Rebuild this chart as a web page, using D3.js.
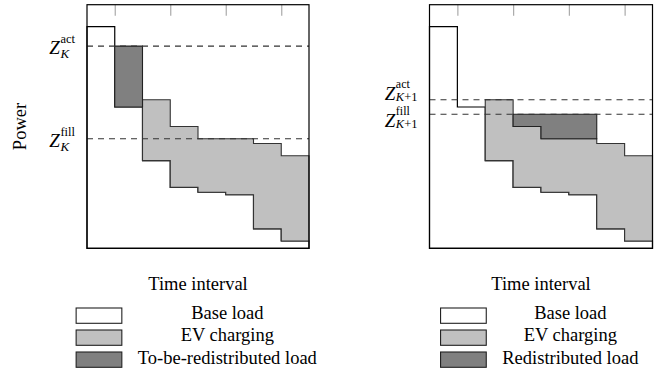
<!DOCTYPE html>
<html>
<head>
<meta charset="utf-8">
<script src="https://d3js.org/d3.v7.min.js"></script>
<style>
  body { margin: 0; background: #fff; }
  text { font-family: "Liberation Serif", "Times New Roman", serif; fill: #000; }
</style>
</head>
<body>
<svg width=672 height=374></svg>
<script>
// time intervals 0..7, power in arbitrary units
const intervals = [0, 1, 2, 3, 4, 5, 6, 7]
const baseLoad = [9.1, 5.8, 3.6, 2.5, 2.3, 2.2, 0.8, 0.3]
const evCharging = [0, 0, 2.5, 2.5, 2.2, 2.3, 3.5, 3.5]
const toBeRedistributed = [0, 2.5, 0, 0, 0, 0, 0, 0]
const redistributed = [0, 0, 0, 0.5, 1.0, 1.0, 0, 0]
const zAct = [8.3, 6.1]
const zFill = [4.5, 5.5]
const zSub = ["K", "K+1"]
const tickValues = [1, 3, 5, 7]
const legendLeft = ["Base load", "EV charging", "To-be-redistributed load"]
const legendRight = ["Base load", "EV charging", "Redistributed load"]

const colors = ["#ffffff", "#c0c0c0", "#808080"]

const svg = d3.select("svg")

const panels = [
  { x0: 87, x1: 309, dark: toBeRedistributed, legend: legendLeft, actDy: 7.5, fillDy: 8, supDy: -10.5, subDy: 4, fs: 12.5 },
  { x0: 429.5, x1: 652.5, dark: redistributed, legend: legendRight, actDy: 0.2, fillDy: 12.4, supDy: -12, subDy: 1.5, fs: 12 }
]

const y = d3.scaleLinear().domain([0, 10]).range([248.3, 4.7])

function steps(lo, hi) {
  const pts = []
  intervals.forEach(i => {
    pts.push({ x: i, lo: lo[i], hi: hi[i] }, { x: i + 1, lo: lo[i], hi: hi[i] })
  })
  return pts
}

panels.forEach((p, k) => {
  const x = d3.scaleLinear().domain([0, 8]).range([p.x0, p.x1])
  const g = svg.append("g")

  const area = d3.area()
    .defined(d => d.hi > d.lo)
    .x(d => x(d.x))
    .y0(d => y(d.lo))
    .y1(d => y(d.hi))

  const zeros = intervals.map(() => 0)
  const evTop = intervals.map(i => baseLoad[i] + evCharging[i])
  const darkTop = intervals.map(i => evTop[i] + p.dark[i])

  g.append("path")
    .attr("d", area(steps(zeros, baseLoad)))
    .attr("fill", colors[0])
    .attr("stroke", "#000")
    .attr("stroke-width", 1.2)

  g.append("path")
    .attr("d", area(steps(baseLoad, evTop)))
    .attr("fill", colors[1])
    .attr("stroke", "#333")
    .attr("stroke-width", 1.1)

  g.append("path")
    .attr("d", area(steps(evTop, darkTop)))
    .attr("fill", colors[2])
    .attr("stroke", "#222")
    .attr("stroke-width", 1.1)

  // threshold lines
  g.selectAll(".thr")
    .data([zAct[k], zFill[k]])
    .join("line")
      .attr("x1", p.x0).attr("x2", p.x1)
      .attr("y1", d => y(d)).attr("y2", d => y(d))
      .attr("stroke", "#333")
      .attr("stroke-width", 1.1)
      .attr("stroke-dasharray", "6,5")

  // ticks along the top
  const ax = g.append("g")
    .attr("transform", `translate(0,${y(10)})`)
    .call(d3.axisTop(x).tickValues(tickValues).tickSize(-11).tickFormat(""))
  ax.select(".domain").remove()
  ax.selectAll("line").attr("stroke", "#aaa").attr("stroke-width", 1.2)

  g.append("rect")
    .attr("x", p.x0).attr("y", y(10))
    .attr("width", p.x1 - p.x0).attr("height", y(0) - y(10))
    .attr("fill", "none")
    .attr("stroke", "#000")
    .attr("stroke-width", 1.2)

  // Z labels
  ;[["act", zAct[k], p.actDy], ["fill", zFill[k], p.fillDy]].forEach(([sup, val, dy]) => {
    const lab = g.append("g").attr("transform", `translate(${p.x0 - 12},${y(val) + dy})`)
    const supT = lab.append("text").attr("y", p.supDy).style("font-size", p.fs + "px").text(sup)
    const subT = lab.append("text").attr("y", p.subDy).style("font-size", (p.fs + 0.5) + "px")
    subT.append("tspan").style("font-style", "italic").text("K")
    if (zSub[k] !== "K") subT.append("tspan").text("+1")
    const w = Math.max(supT.node().getComputedTextLength(), subT.node().getComputedTextLength())
    supT.attr("x", -w)
    subT.attr("x", -w)
    lab.append("text")
      .attr("x", -w - 0.5)
      .attr("text-anchor", "end")
      .style("font-size", "19px")
      .style("font-style", "italic")
      .text("Z")
  })

  const cx = (p.x0 + p.x1) / 2
  g.append("text")
    .attr("x", cx).attr("y", 289.5)
    .attr("text-anchor", "middle")
    .style("font-size", "18.5px")
    .text("Time interval")

  // legend
  const leg = g.append("g")
  const items = leg.selectAll("text")
    .data(p.legend)
    .join("text")
      .attr("y", (d, i) => 318.5 + i * 22.5)
      .attr("text-anchor", "middle")
      .style("font-size", "18.5px")
      .text(d => d)
  const maxW = d3.max(items.nodes(), n => n.getComputedTextLength())
  const boxW = 45.7
  const left = cx - (boxW + 16 + maxW) / 2 - 1.5
  items.attr("x", left + boxW + 16 + maxW / 2)
  leg.selectAll("rect")
    .data(colors)
    .join("rect")
      .attr("x", left).attr("y", (d, i) => 308 + i * 22)
      .attr("width", boxW).attr("height", 15.3)
      .attr("fill", d => d)
      .attr("stroke", "#222")
      .attr("stroke-width", 1.1)
})

svg.append("text")
  .attr("transform", `translate(26,${(y(0) + y(10)) / 2}) rotate(-90)`)
  .attr("text-anchor", "middle")
  .style("font-size", "18.5px")
  .text("Power")
</script>
</body>
</html>
